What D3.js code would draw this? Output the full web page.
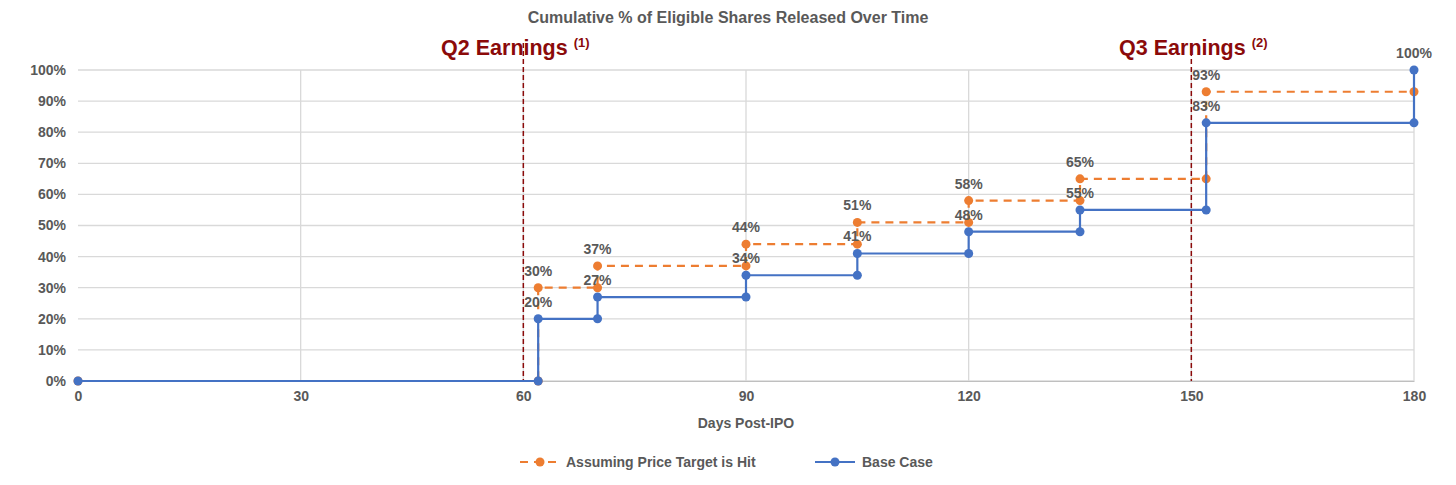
<!DOCTYPE html>
<html><head><meta charset="utf-8">
<script src="https://cdn.jsdelivr.net/npm/d3@7"></script>
<style>body{margin:0;background:#fff;font-family:Arial,"Liberation Sans",sans-serif}</style>
</head><body><svg id="c" width="1456" height="485"></svg>
<script>
// step points (day, %)
const baseDays = [0, 62, 62, 70, 70, 90, 90, 105, 105, 120, 120, 135, 135, 152, 152, 180, 180];
const baseVals = [0, 0, 20, 20, 27, 27, 34, 34, 41, 41, 48, 48, 55, 55, 83, 83, 100];
const targetDays = [0, 62, 62, 70, 70, 90, 90, 105, 105, 120, 120, 135, 135, 152, 152, 180];
const targetVals = [0, 0, 30, 30, 37, 37, 44, 44, 51, 51, 58, 58, 65, 65, 93, 93];
// labelled points
const baseLabelDays = [62, 70, 90, 105, 120, 135, 152, 180];
const baseLabelVals = [20, 27, 34, 41, 48, 55, 83, 100];
const targetLabelDays = [62, 70, 90, 105, 120, 135, 152];
const targetLabelVals = [30, 37, 44, 51, 58, 65, 93];
const xTicks = [0, 30, 60, 90, 120, 150, 180];
const yTicks = [0, 10, 20, 30, 40, 50, 60, 70, 80, 90, 100];
const events = [{day: 60, name: "Q2 Earnings", note: "(1)", dx: -8}, {day: 150, name: "Q3 Earnings", note: "(2)", dx: 2}];

const svg = d3.select("#c");
const x = d3.scaleLinear().domain([0, 180]).range([78, 1414]);
const y = d3.scaleLinear().domain([0, 100]).range([381, 70]);
const blue = "#4472C4", orange = "#ED7D31", grey = "#595959", red = "#8B0A0A";

svg.append("text").attr("x", 728).attr("y", 23).attr("text-anchor", "middle")
  .attr("font-size", 16).attr("font-weight", "bold").attr("fill", grey)
  .text("Cumulative % of Eligible Shares Released Over Time");

// grid
svg.append("g").selectAll("line").data(yTicks).join("line")
  .attr("x1", x(0)).attr("x2", x(180)).attr("y1", d => y(d)).attr("y2", d => y(d))
  .attr("stroke", "#d9d9d9").attr("stroke-width", 1.3);
svg.append("g").selectAll("line").data(xTicks.slice(1)).join("line")
  .attr("x1", d => x(d)).attr("x2", d => x(d)).attr("y1", y(0)).attr("y2", y(100))
  .attr("stroke", "#d9d9d9").attr("stroke-width", 1.3);

// axes
const xa = svg.append("g").attr("transform", `translate(0,${y(0)})`)
  .call(d3.axisBottom(x).tickValues(xTicks).tickSize(0).tickPadding(10));
const ya = svg.append("g").attr("transform", `translate(${x(0)},0)`)
  .call(d3.axisLeft(y).tickValues(yTicks).tickSize(0).tickPadding(12).tickFormat(d => d + "%"));
[xa, ya].forEach(a => {
  a.select(".domain").attr("stroke", "#bfbfbf");
  a.selectAll("text").attr("font-size", 14).attr("font-weight", "bold").attr("fill", grey)
    .attr("font-family", "Arial, Liberation Sans, sans-serif");
});
ya.select(".domain").remove();
svg.append("text").attr("x", x(90)).attr("y", 428).attr("text-anchor", "middle")
  .attr("font-size", 14).attr("font-weight", "bold").attr("fill", grey).text("Days Post-IPO");

// earnings lines
events.forEach(e => {
  svg.append("line").attr("x1", x(e.day)).attr("x2", x(e.day)).attr("y1", 43).attr("y2", y(0))
    .attr("stroke", red).attr("stroke-width", 1.5).attr("stroke-dasharray", "5,3");
  const t = svg.append("text").attr("x", x(e.day) + e.dx).attr("y", 55).attr("text-anchor", "middle")
    .attr("font-size", 21.5).attr("font-weight", "bold").attr("fill", red);
  t.append("tspan").text(e.name + " ");
  t.append("tspan").attr("font-size", 13).attr("dy", -8).text(e.note);
});

const line = d3.line().x(d => x(d[0])).y(d => y(d[1]));
const tPts = d3.zip(targetDays, targetVals), bPts = d3.zip(baseDays, baseVals);
svg.append("path").attr("d", line(tPts)).attr("fill", "none").attr("stroke", orange)
  .attr("stroke-width", 2.2).attr("stroke-dasharray", "8,6");
svg.append("g").selectAll("circle").data(tPts).join("circle")
  .attr("cx", d => x(d[0])).attr("cy", d => y(d[1])).attr("r", 4.5).attr("fill", orange);
svg.append("path").attr("d", line(bPts)).attr("fill", "none").attr("stroke", blue).attr("stroke-width", 2.2);
svg.append("g").selectAll("circle").data(bPts).join("circle")
  .attr("cx", d => x(d[0])).attr("cy", d => y(d[1])).attr("r", 4.5).attr("fill", blue);

// value labels
const labs = d3.zip(targetLabelDays, targetLabelVals).concat(d3.zip(baseLabelDays, baseLabelVals));
svg.append("g").selectAll("text").data(labs).join("text")
  .attr("x", d => x(d[0])).attr("y", d => y(d[1]) - 12).attr("text-anchor", "middle")
  .attr("font-size", 14).attr("font-weight", "bold").attr("fill", grey).text(d => d[1] + "%");

// legend
const lg = svg.append("g").attr("transform", "translate(0,462)");
lg.append("line").attr("x1", 520).attr("x2", 560).attr("stroke", orange).attr("stroke-width", 2.2).attr("stroke-dasharray", "8,6");
lg.append("circle").attr("cx", 540).attr("r", 4.5).attr("fill", orange);
lg.append("text").attr("x", 566).attr("y", 5).attr("font-size", 14).attr("font-weight", "bold").attr("fill", grey).text("Assuming Price Target is Hit");
lg.append("line").attr("x1", 815).attr("x2", 855).attr("stroke", blue).attr("stroke-width", 2.2);
lg.append("circle").attr("cx", 835).attr("r", 4.5).attr("fill", blue);
lg.append("text").attr("x", 862).attr("y", 5).attr("font-size", 14).attr("font-weight", "bold").attr("fill", grey).text("Base Case");
</script></body></html>
